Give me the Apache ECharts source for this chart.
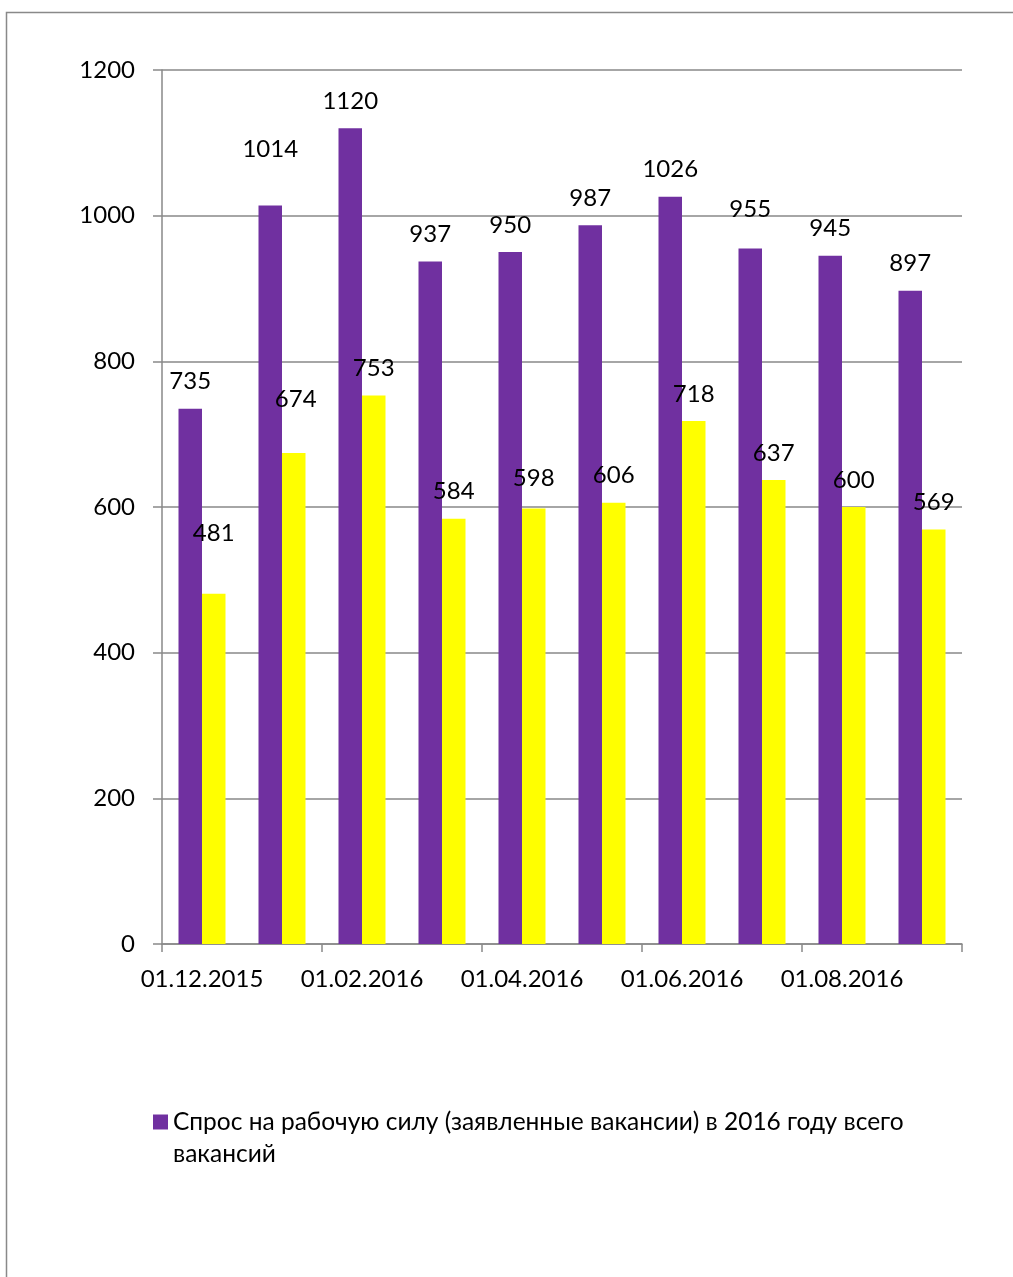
<!DOCTYPE html>
<html><head><meta charset="utf-8">
<script src="https://cdn.jsdelivr.net/npm/echarts@6/dist/echarts.min.js"></script>
<style>html,body{margin:0;padding:0;background:#fff}#c{width:1013px;height:1277px}</style>
</head><body><div id="c"></div>
<script>
const categories = ['01.12.2015','01.01.2016','01.02.2016','01.03.2016','01.04.2016','01.05.2016','01.06.2016','01.07.2016','01.08.2016','01.09.2016'];
const vacanciesTotal = [735,1014,1120,937,950,987,1026,955,945,897];
const vacanciesOther = [481,674,753,584,598,606,718,637,600,569];
const seriesNames = ['Спрос на рабочую силу (заявленные вакансии) в 2016 году всего вакансий', 'Ряд 2'];
const yMin = 0, yMax = 1200, yStep = 200;

// label nudges (style only)
const nudgeA = {1:[0,-29], 7:[0,-12]};
const nudgeB = {0:[0,-33], 1:[2,-27], 4:[0,-3]};

const FONT = 'Lato, "Noto Sans", sans-serif';
const FS = 24;
const GRAY = '#898989';
function build(vals, nudge){
  return vals.map((v,i)=> nudge[i] ? {value:v, label:{offset:nudge[i]}} : v);
}
const chart = echarts.init(document.getElementById('c'), null, {renderer:'canvas'});
chart.setOption({
  animation:false,
  backgroundColor:'#fff',
  textStyle:{fontFamily:FONT},
  graphic:[{type:'rect', shape:{x:6.5,y:12.5,width:1100,height:1400}, style:{fill:'none', stroke:GRAY, lineWidth:1.5}, silent:true}],
  grid:{left:162, right:51, top:70, bottom:333, containLabel:false},
  legend:{
    data:[seriesNames[0]],
    left:148, top:1069,
    itemWidth:15, itemHeight:15,
    icon:'rect',
    formatter: n => '\n' + n.replace(/ (\S+)$/, '\n$1'),
    textStyle:{fontFamily:FONT, fontSize:24.5, color:'#000', lineHeight:32}
  },
  xAxis:{
    type:'category', data:categories,
    axisLine:{lineStyle:{color:GRAY, width:1.5}},
    axisTick:{show:true, interval:1, length:8, lineStyle:{color:GRAY, width:1.5}},
    axisLabel:{interval:1, margin:23, fontSize:FS, color:'#000', fontFamily:FONT}
  },
  yAxis:{
    type:'value', min:yMin, max:yMax, interval:yStep,
    axisLine:{show:true, lineStyle:{color:GRAY, width:1.5}},
    axisTick:{show:true, length:9, lineStyle:{color:GRAY, width:1.5}},
    splitLine:{lineStyle:{color:GRAY, width:1.5}},
    axisLabel:{margin:27, fontSize:FS, color:'#000', fontFamily:FONT, formatter: v => String(v)}
  },
  series:[
    {name:seriesNames[0], type:'bar', data:build(vacanciesTotal, nudgeA), barWidth:23.5, barGap:'0%',
     itemStyle:{color:'#7030A0'},
     label:{show:true, position:'top', distance:15, fontSize:FS, color:'#000', fontFamily:FONT}},
    {name:seriesNames[1], type:'bar', data:build(vacanciesOther, nudgeB), barWidth:23.5, barGap:'0%',
     itemStyle:{color:'#FFFF00'},
     label:{show:true, position:'top', distance:15, fontSize:FS, color:'#000', fontFamily:FONT}}
  ]
});
</script></body></html>
